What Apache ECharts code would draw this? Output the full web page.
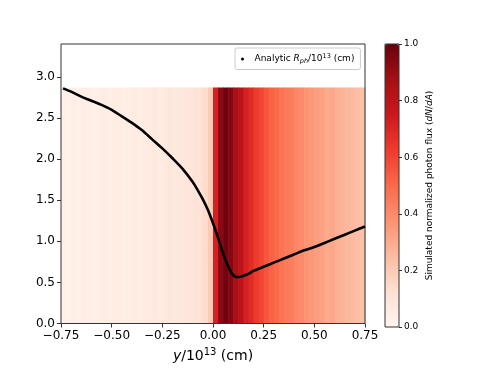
<!DOCTYPE html>
<html>
<head>
<meta charset="utf-8">
<script src="https://cdn.jsdelivr.net/npm/echarts@6/dist/echarts.min.js"></script>
<style>
  html, body { margin: 0; padding: 0; background: #fff; }
  #chart { width: 491px; height: 368px; }
</style>
</head>
<body>
<div id="chart"></div>
<script>
// simulated flux, one value per 0.025 wide bin starting at -0.75
const binStart = -0.75
const binWidth = 0.025
const flux = [
  0.03, 0.03, 0.04, 0.03, 0.04, 0.04, 0.03, 0.04, 0.05, 0.04,
  0.05, 0.05, 0.04, 0.05, 0.06, 0.05, 0.06, 0.06, 0.07, 0.06,
  0.07, 0.08, 0.07, 0.08, 0.09, 0.09, 0.10, 0.11, 0.14, 0.20,
  0.72, 0.93, 0.98, 0.94, 0.86, 0.80, 0.72, 0.68, 0.63, 0.60,
  0.55, 0.52, 0.50, 0.47, 0.45, 0.44, 0.41, 0.40, 0.37, 0.36,
  0.34, 0.33, 0.30, 0.31, 0.28, 0.27, 0.26, 0.25, 0.24, 0.23
]
const fluxTop = 2.87

// analytic photosphere radius
const curveX = [-0.74, -0.70, -0.65, -0.60, -0.55, -0.50, -0.45, -0.40, -0.35, -0.30,
  -0.25, -0.20, -0.15, -0.10, -0.075, -0.05, -0.025, 0.00, 0.02, 0.04,
  0.06, 0.08, 0.09, 0.10, 0.11, 0.12, 0.13, 0.14, 0.16, 0.18,
  0.20, 0.25, 0.30, 0.35, 0.40, 0.45, 0.50, 0.55, 0.60, 0.65, 0.70, 0.75]
const curveY = [2.86, 2.82, 2.76, 2.71, 2.66, 2.60, 2.52, 2.44, 2.35, 2.24,
  2.13, 2.01, 1.88, 1.72, 1.62, 1.51, 1.38, 1.22, 1.08, 0.93,
  0.78, 0.67, 0.62, 0.59, 0.57, 0.565, 0.565, 0.57, 0.59, 0.61,
  0.64, 0.69, 0.74, 0.79, 0.84, 0.89, 0.93, 0.98, 1.03, 1.08, 1.13, 1.18]

const xTicks = [-0.75, -0.5, -0.25, 0, 0.25, 0.5, 0.75]
const yTicks = [0, 0.5, 1.0, 1.5, 2.0, 2.5, 3.0]
const reds = ['#fff5f0', '#fee0d2', '#fcbba1', '#fc9272', '#fb6a4a', '#ef3b2c', '#cb181d', '#a50f15', '#67000d']

const font = 'DejaVu Sans'
const fmt = v => (v < 0 ? '\u2212' : '') + Math.abs(v).toFixed(2)

const fluxData = flux.map((v, i) => [binStart + i * binWidth, binStart + (i + 1) * binWidth, v])
const curveData = curveX.map((x, i) => [x, curveY[i]])

const chart = echarts.init(document.getElementById('chart'), null, { renderer: 'canvas' })

const option = {
  animation: false,
  textStyle: { fontFamily: font },
  grid: [
    { left: 61, top: 44, width: 304, height: 283, show: true, borderColor: '#333', borderWidth: 1, backgroundColor: 'transparent', z: 3 },
    { left: 385, top: 44, width: 14, height: 283, show: true, borderColor: '#333', borderWidth: 1, backgroundColor: 'transparent', z: 6 }
  ],
  legend: {
    data: ['Analytic'],
    left: 235,
    top: 48,
    padding: [5, 6, 5, 6],
    borderColor: '#ccc',
    borderWidth: 1,
    borderRadius: 2,
    backgroundColor: '#fff',
    icon: 'circle',
    itemWidth: 14,
    itemHeight: 3,
    formatter: () => 'Analytic {i|R}{sub|ph}/10{sup|13} (cm)',
    textStyle: {
      fontFamily: font,
      fontSize: 9,
      color: '#000',
      rich: {
        i: { fontFamily: font, fontSize: 9, fontStyle: 'italic', color: '#000' },
        sub: { fontFamily: font, fontSize: 6.5, fontStyle: 'italic', color: '#000', padding: [4, 0, 0, 0] },
        sup: { fontFamily: font, fontSize: 6.5, color: '#000', padding: [0, 0, 5, 0] }
      }
    }
  },
  visualMap: {
    type: 'continuous',
    seriesIndex: 0,
    dimension: 2,
    min: 0,
    max: 1,
    calculable: false,
    showLabel: false,
    text: null,
    left: 385,
    top: 44,
    padding: 0,
    itemWidth: 14,
    itemHeight: 283,
    inRange: { color: reds }
  },
  xAxis: [
    {
      type: 'value',
      gridIndex: 0,
      min: -0.75,
      max: 0.75,
      interval: 0.25,
      splitLine: { show: false },
      axisLine: { show: false, onZero: false },
      axisTick: { show: true, length: 4, lineStyle: { color: '#333' }, customValues: xTicks },
      axisLabel: { fontFamily: font, fontSize: 12, color: '#000', margin: 6, formatter: fmt, customValues: xTicks },
      name: '{it|y}/10{sup|13} (cm)',
      nameLocation: 'middle',
      nameGap: 24,
      nameTextStyle: {
        fontFamily: font,
        fontSize: 14,
        color: '#000',
        rich: {
          it: { fontFamily: font, fontSize: 14, fontStyle: 'italic', color: '#000' },
          sup: { fontFamily: font, fontSize: 10, color: '#000', padding: [0, 0, 7, 0] }
        }
      }
    },
    {
      type: 'value',
      gridIndex: 1,
      show: false,
      min: 0,
      max: 1
    }
  ],
  yAxis: [
    {
      type: 'value',
      gridIndex: 0,
      min: 0,
      max: 3.4,
      interval: 0.5,
      splitLine: { show: false },
      axisLine: { show: false, onZero: false },
      axisTick: { show: true, length: 4, lineStyle: { color: '#333' }, customValues: yTicks },
      axisLabel: { fontFamily: font, fontSize: 12, color: '#000', margin: 6, formatter: v => v.toFixed(1), customValues: yTicks }
    },
    {
      type: 'value',
      gridIndex: 1,
      position: 'right',
      min: 0,
      max: 1,
      interval: 0.2,
      splitLine: { show: false },
      axisLine: { show: false, onZero: false },
      axisTick: { show: true, length: 3, lineStyle: { color: '#333' } },
      axisLabel: { fontFamily: font, fontSize: 9, color: '#000', margin: 5, formatter: v => v.toFixed(1) },
      name: 'Simulated normalized photon flux ({it|dN}/{it|dA})',
      nameLocation: 'middle',
      nameRotate: 90,
      nameGap: 26,
      nameTextStyle: {
        fontFamily: font,
        fontSize: 9,
        color: '#000',
        rich: { it: { fontFamily: font, fontSize: 9, fontStyle: 'italic', color: '#000' } }
      }
    }
  ],
  series: [
    {
      name: 'flux',
      type: 'custom',
      xAxisIndex: 0,
      yAxisIndex: 0,
      encode: { x: [0, 1] },
      data: fluxData,
      z: 1,
      renderItem(params, api) {
        const p0 = api.coord([api.value(0), fluxTop])
        const p1 = api.coord([api.value(1), 0])
        return {
          type: 'rect',
          shape: { x: p0[0], y: p0[1], width: p1[0] - p0[0] + 0.6, height: p1[1] - p0[1] },
          style: { fill: api.visual('color') }
        }
      }
    },
    {
      name: 'Analytic',
      type: 'line',
      xAxisIndex: 0,
      yAxisIndex: 0,
      data: curveData,
      smooth: 0.3,
      showSymbol: false,
      z: 4,
      itemStyle: { color: '#000' },
      lineStyle: { color: '#000', width: 2.6 }
    }
  ]
}

chart.setOption(option)
</script>
</body>
</html>
